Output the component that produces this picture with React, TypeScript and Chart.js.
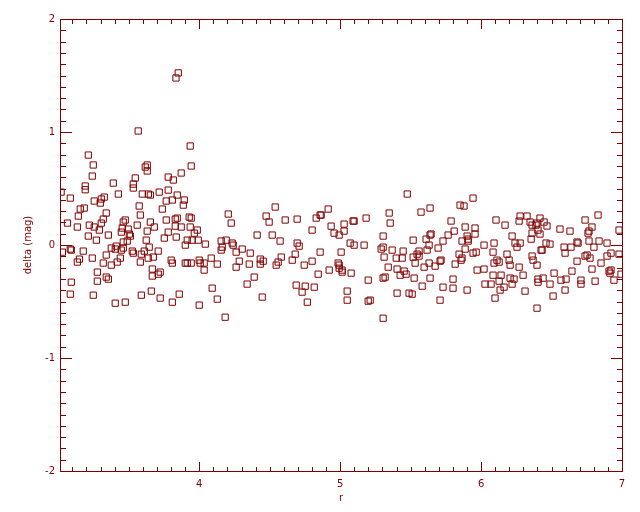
import React, { useEffect, useRef } from 'react';
import { Chart, registerables } from 'chart.js';

Chart.register(...registerables);

// r values (x) of every star
const rValues = [
  3.851, 3.835,
  3.567, 3.936, 3.213, 3.248, 3.631, 3.617, 3.631, 3.943, 3.241, 3.872, 3.780, 3.816, 3.546, 3.390,
  3.532, 3.532, 3.191, 3.191, 3.020, 3.426, 3.596, 3.639, 3.653, 3.716, 3.780, 3.085, 3.255, 3.305,
  3.298, 3.326, 3.766, 3.809, 3.844, 3.894, 3.887, 3.156, 3.184, 3.574, 3.738, 3.340, 3.142, 3.582,
  3.319, 3.766, 3.830, 3.844, 3.929, 3.943, 3.065, 3.305, 3.653, 3.475, 3.461, 3.220, 3.255, 3.135,
  3.291, 3.454, 3.447, 3.496, 3.560, 3.681, 3.830, 3.872, 3.936, 3.986, 3.631, 3.780, 3.965, 3.355,
  3.213, 3.504, 3.511, 3.752, 3.837, 3.270, 3.489, 3.461, 3.624, 3.915, 3.950, 3.993, 3.901, 3.085,
  3.092, 3.029, 3.177, 3.376, 3.411, 3.404, 3.447, 3.461, 3.525, 3.532, 3.589, 3.610, 3.645, 3.638,
  3.674, 3.709, 3.241, 3.340, 3.440, 3.135, 3.150, 3.319, 3.376, 3.418, 3.582, 3.801, 3.809, 3.901,
  3.915, 3.943, 4.000, 4.007, 3.277, 3.667, 3.667, 3.723, 3.709, 3.340, 3.355, 3.092, 3.277, 3.660,
  3.085, 3.248, 3.589, 3.858, 3.723, 3.404, 3.475, 3.809, 4.000,
  4.539, 4.206, 4.475, 4.227, 4.496, 4.610, 4.695, 4.830, 4.858, 4.865, 4.915, 4.936, 4.801, 4.957,
  4.993, 4.043, 4.156, 4.156, 4.163, 4.191, 4.234, 4.241, 4.262, 4.305, 4.362, 4.411, 4.518, 4.574,
  4.695, 4.709, 4.681, 4.582, 4.560, 4.546, 4.433, 4.454, 4.433, 4.284, 4.355, 4.262, 4.660, 4.745,
  4.801, 4.858, 5.007, 4.922, 4.844, 4.986, 4.993, 4.993, 5.014, 4.035, 4.035, 4.085, 4.128, 4.390,
  4.340, 4.092, 4.128, 4.184, 4.447, 4.688, 4.752, 4.730, 4.816, 4.767,
  5.476, 5.943, 5.851, 5.879, 5.348, 5.574, 5.638, 5.184, 5.092, 5.099, 5.028, 5.028, 5.355, 5.305,
  5.787, 5.809, 5.887, 5.957, 5.957, 5.766, 5.645, 5.638, 5.610, 5.518, 5.631, 5.730, 5.901, 5.908,
  5.865, 5.908, 6.021, 5.071, 5.099, 5.170, 5.291, 5.305, 5.312, 5.369, 5.447, 5.398, 5.440, 5.518,
  5.546, 5.560, 5.560, 5.617, 5.695, 5.532, 5.631, 5.596, 5.674, 5.709, 5.716, 5.816, 5.844, 5.858,
  5.865, 5.887, 5.943, 5.965, 5.014, 5.078, 5.341, 5.404, 5.454, 5.468, 5.426, 5.305, 5.319, 5.199,
  5.525, 5.638, 5.801, 5.972, 6.021, 5.582, 5.730, 5.801, 5.901, 5.050, 5.050, 5.199, 5.213, 5.404,
  5.489, 5.511, 5.709, 5.305,
  6.277, 6.326, 6.270, 6.106, 6.170, 6.418, 6.348, 6.362, 6.390, 6.397, 6.447, 6.468, 6.404, 6.362,
  6.418, 6.560, 6.631, 6.738, 6.830, 6.787, 6.759, 6.766, 6.979, 6.220, 6.241, 6.277, 6.255, 6.355,
  6.461, 6.489, 6.426, 6.433, 6.092, 6.085, 6.184, 6.589, 6.638, 6.596, 6.681, 6.688, 6.766, 6.801,
  6.837, 6.894, 6.922, 6.979, 6.894, 6.738, 6.752, 6.773, 6.681, 6.851, 6.113, 6.128, 6.092, 6.199,
  6.206, 6.362, 6.369, 6.397, 6.270, 6.085, 6.142, 6.298, 6.518, 6.645, 6.787, 6.908, 6.922, 6.915,
  6.993, 6.028, 6.071, 6.128, 6.206, 6.234, 6.220, 6.163, 6.135, 6.404, 6.404, 6.440, 6.489, 6.567,
  6.603, 6.709, 6.709, 6.809, 6.943, 6.312, 6.596, 6.511, 6.099, 6.397,
];

// delta (mag) values (y), same order as rValues
const deltaValues = [
  1.523, 1.478,
  1.009, 0.876, 0.796, 0.708, 0.708, 0.690, 0.655, 0.699, 0.610, 0.637, 0.601, 0.575, 0.593, 0.548,
  0.539, 0.504, 0.522, 0.489, 0.468, 0.451, 0.451, 0.451, 0.442, 0.468, 0.486, 0.415, 0.389, 0.407,
  0.371, 0.424, 0.389, 0.398, 0.442, 0.398, 0.353, 0.318, 0.327, 0.345, 0.318, 0.283, 0.256, 0.265,
  0.229, 0.221, 0.229, 0.238, 0.247, 0.238, 0.194, 0.194, 0.203, 0.221, 0.203, 0.176, 0.159, 0.159,
  0.132, 0.150, 0.114, 0.141, 0.176, 0.159, 0.167, 0.159, 0.159, 0.132, 0.123, 0.114, 0.105, 0.088,
  0.079, 0.097, 0.079, 0.061, 0.070, 0.043, 0.035, 0.026, 0.043, 0.043, 0.043, 0.043, -0.001, -0.036,
  -0.045, -0.063, -0.054, -0.027, -0.010, -0.036, -0.045, -0.027, -0.054, -0.072, -0.081, -0.054, -0.019, -0.116,
  -0.107, -0.054, -0.116, -0.089, -0.116, -0.151, -0.125, -0.160, -0.178, -0.151, -0.151, -0.134, -0.160, -0.160,
  -0.160, -0.160, -0.134, -0.160, -0.240, -0.213, -0.275, -0.240, -0.258, -0.284, -0.302, -0.329, -0.320, -0.408,
  -0.435, -0.444, -0.444, -0.435, -0.470, -0.515, -0.506, -0.506, -0.532,
  0.336, 0.274, 0.256, 0.194, 0.203, 0.221, 0.229, 0.238, 0.265, 0.265, 0.318, 0.167, 0.132, 0.105,
  0.088, 0.008, 0.035, -0.045, -0.019, 0.043, 0.017, -0.001, -0.063, -0.036, -0.072, 0.088, 0.088, 0.035,
  0.017, -0.010, -0.081, -0.107, -0.151, -0.178, -0.125, -0.143, -0.169, -0.143, -0.169, -0.196, -0.134, -0.178,
  -0.143, -0.063, -0.063, -0.222, -0.258, -0.160, -0.178, -0.205, -0.240, -0.160, -0.222, -0.116, -0.169, -0.284,
  -0.346, -0.382, -0.479, -0.639, -0.461, -0.355, -0.364, -0.417, -0.373, -0.506,
  0.451, 0.415, 0.353, 0.345, 0.283, 0.291, 0.327, 0.238, 0.212, 0.212, 0.185, 0.123, 0.194, 0.079,
  0.212, 0.123, 0.159, 0.150, 0.097, 0.088, 0.097, 0.088, 0.052, 0.043, -0.001, 0.035, 0.079, 0.052,
  0.035, 0.035, -0.001, 0.017, -0.001, -0.001, -0.036, -0.019, -0.107, -0.045, -0.054, -0.116, -0.116, -0.107,
  -0.081, -0.054, -0.098, -0.045, -0.027, -0.160, -0.160, -0.196, -0.187, -0.143, -0.134, -0.169, -0.081, -0.134,
  -0.116, -0.036, -0.072, -0.063, -0.222, -0.249, -0.196, -0.213, -0.231, -0.258, -0.267, -0.293, -0.284, -0.311,
  -0.293, -0.293, -0.302, -0.222, -0.213, -0.364, -0.373, -0.382, -0.399, -0.408, -0.488, -0.497, -0.488, -0.426,
  -0.426, -0.435, -0.488, -0.648,
  0.256, 0.256, 0.212, 0.221, 0.176, 0.238, 0.203, 0.176, 0.176, 0.194, 0.203, 0.168, 0.132, 0.105,
  0.097, 0.141, 0.123, 0.221, 0.265, 0.159, 0.105, 0.123, 0.132, 0.079, 0.017, 0.017, -0.019, 0.052,
  0.017, 0.008, -0.045, -0.045, 0.017, -0.063, -0.081, -0.019, -0.019, -0.072, 0.026, 0.017, 0.035, -0.019,
  0.035, 0.017, -0.072, -0.081, -0.098, -0.098, -0.089, -0.116, -0.143, -0.160, -0.134, -0.151, -0.160, -0.134,
  -0.178, -0.098, -0.134, -0.178, -0.196, -0.267, -0.267, -0.267, -0.249, -0.231, -0.213, -0.231, -0.222, -0.249,
  -0.258, -0.346, -0.346, -0.320, -0.293, -0.302, -0.346, -0.373, -0.399, -0.302, -0.329, -0.293, -0.346, -0.311,
  -0.302, -0.311, -0.346, -0.320, -0.311, -0.408, -0.399, -0.452, -0.470, -0.559,
];

const xTickValues = [4, 5, 6, 7];
const yTickValues = [-2, -1, 0, 1, 2];
const xMinorStep = 0.1;
const yMinorStep = 0.1;
const xMin = 3.012;
const xMax = 7;
const yMin = -2;
const yMax = 2;
const xTitle = 'r';
const yTitle = 'delta (mag)';

const MAROON = '#800000';
const FONT = { family: '"DejaVu Sans", sans-serif', size: 10 };

function tickList(min: number, max: number, step: number) {
  const out: { v: number; major: boolean }[] = [];
  const first = Math.ceil(min / step - 1e-6);
  const last = Math.floor(max / step + 1e-6);
  for (let k = first; k <= last; k++) {
    const v = k * step;
    const major = Math.abs(v - Math.round(v)) < 1e-6;
    out.push({ v, major });
  }
  return out;
}

export default function App() {
  const ref = useRef<HTMLCanvasElement>(null);
  useEffect(() => {
    document.body.style.margin = '0';
    if (!ref.current) return;
    const framePlugin = {
      id: 'idlFrame',
      afterDraw(chart: any) {
        const ctx: CanvasRenderingContext2D = chart.ctx;
        const a = chart.chartArea;
        const xs = chart.scales.x;
        const ys = chart.scales.y;
        const L = Math.round(a.left);
        const R = Math.round(a.right);
        const T = Math.round(a.top);
        const B = Math.round(a.bottom);
        ctx.save();
        ctx.fillStyle = MAROON;
        ctx.fillRect(L, T, R - L + 1, 1);
        ctx.fillRect(L, B, R - L + 1, 1);
        ctx.fillRect(L, T, 1, B - T + 1);
        ctx.fillRect(R, T, 1, B - T + 1);
        for (const t of tickList(xMin, xMax, xMinorStep)) {
          const len = t.major ? 10 : 5;
          const px = Math.round(xs.getPixelForValue(t.v));
          ctx.fillRect(px, B - len + 1, 1, len);
          ctx.fillRect(px, T, 1, len);
        }
        for (const t of tickList(yMin, yMax, yMinorStep)) {
          const len = t.major ? 12 : 6;
          const py = Math.round(ys.getPixelForValue(t.v));
          ctx.fillRect(L, py, len, 1);
          ctx.fillRect(R - len + 1, py, len, 1);
        }
        ctx.restore();
      },
    };
    const points = rValues.map((r, i) => ({ x: r, y: deltaValues[i] }));
    const chart = new Chart(ref.current, {
      type: 'scatter',
      data: {
        datasets: [
          {
            data: points,
            pointStyle: 'rect',
            pointRadius: 4.4,
            pointHoverRadius: 4.4,
            pointBorderWidth: 1,
            pointBorderColor: MAROON,
            pointBackgroundColor: 'rgba(0,0,0,0)',
            showLine: false,
            clip: 0,
          } as any,
        ],
      },
      plugins: [framePlugin],
      options: {
        animation: false,
        responsive: false,
        devicePixelRatio: 1,
        events: [],
        layout: { padding: { top: 19, right: 18, left: 0, bottom: 0 } },
        plugins: { legend: { display: false }, tooltip: { enabled: false } },
        scales: {
          x: {
            type: 'linear',
            min: xMin,
            max: xMax,
            afterBuildTicks: (s: any) => {
              s.ticks = xTickValues.map((v) => ({ value: v }));
            },
            afterFit: (s: any) => {
              s.height = 41;
            },
            ticks: { color: MAROON, font: FONT, padding: 7, includeBounds: false, maxRotation: 0, autoSkip: false },
            grid: { display: false, drawTicks: false },
            border: { display: false },
            title: { display: true, text: xTitle, color: MAROON, font: FONT, padding: { top: 0, bottom: 8 } },
          },
          y: {
            type: 'linear',
            min: yMin,
            max: yMax,
            afterBuildTicks: (s: any) => {
              s.ticks = yTickValues.map((v) => ({ value: v }));
            },
            afterFit: (s: any) => {
              s.width = 60;
            },
            ticks: { color: MAROON, font: FONT, padding: 5, autoSkip: false },
            grid: { display: false, drawTicks: false },
            border: { display: false },
            title: { display: true, text: yTitle, color: MAROON, font: FONT, padding: { top: 22, bottom: 0 } },
          },
        },
      } as any,
    });
    return () => chart.destroy();
  }, []);
  return (
    <div style={{ position: 'absolute', left: 0, top: 0, width: 640, height: 512, background: '#fff' }}>
      <canvas ref={ref} width={640} height={512} style={{ display: 'block' }} />
    </div>
  );
}
